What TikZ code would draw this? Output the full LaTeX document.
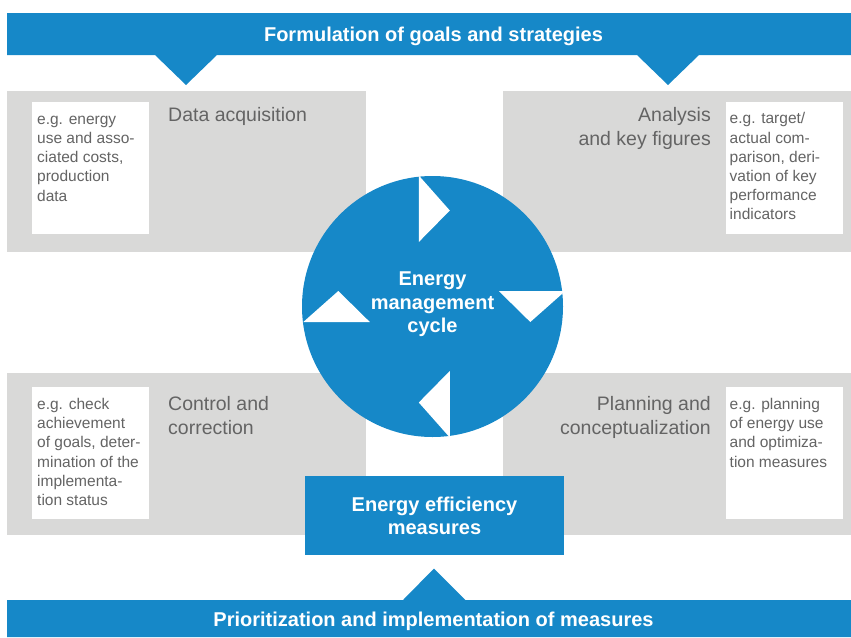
\documentclass[tikz,border=0pt]{standalone}
\usepackage{fontspec}
\setmainfont{Liberation Sans}
\definecolor{cycleblue}{RGB}{22,136,200}
\definecolor{phasegray}{RGB}{217,217,216}
\definecolor{notegray}{RGB}{100,100,100}
\tikzset{
  phasebox/.style={fill=phasegray,inner sep=0pt,anchor=north west},
  notebox/.style={fill=white,inner sep=0pt,anchor=north west,minimum width=117pt,minimum height=132pt},
  notetext/.style={inner sep=0pt,anchor=north west,align=left,text=notegray,font=\fontsize{15.5}{19.2}\selectfont},
  phasetitle/.style={inner sep=0pt,text=notegray,font=\fontsize{19.5}{24}\selectfont},
  whitebold/.style={inner sep=0pt,text=white,font=\bfseries\fontsize{20}{23.3}\selectfont},
  notch/.style={fill=white}
}
\begin{document}
\begin{tikzpicture}[x=1pt,y=-1pt]
\useasboundingbox (0,0) rectangle (851,637);
% gray phase boxes with their notes
\node[phasebox,minimum width=359pt,minimum height=161pt] (acq) at (7,91) {};
\node[phasebox,minimum width=348pt,minimum height=161pt] (ana) at (503,91) {};
\node[phasebox,minimum width=359pt,minimum height=162pt] (ctrl) at (7,373) {};
\node[phasebox,minimum width=348pt,minimum height=162pt] (plan) at (503,373) {};
\node[notebox] (acqnote) at (32,102) {};
\node[notebox] (ananote) at (726,102) {};
\node[notebox] (ctrlnote) at (32,387) {};
\node[notebox] (plannote) at (726,387) {};
\node[phasetitle,anchor=north west,align=left] (acqtitle) at (168,104.9) {\strut Data acquisition};
\node[phasetitle,anchor=north east,align=right] (anatitle) at (711,104.4) {\strut Analysis\\and key figures};
\node[phasetitle,anchor=north west,align=left] (ctrltitle) at (168,393.4) {\strut Control and\\correction};
\node[phasetitle,anchor=north east,align=right] (plantitle) at (711,393.4) {\strut Planning and\\conceptualization};
\node[notetext] (acqtext) at (37,110.6) {\strut e.g. energy\\use and asso-\\ciated costs,\\production\\data};
\node[notetext] (anatext) at (729.5,110.3) {\strut e.g. target/\\actual com-\\parison, deri-\\vation of key\\performance\\indicators};
\node[notetext] (ctrltext) at (37,395.9) {\strut e.g. check\\achievement\\of goals, deter-\\mination of the\\implementa-\\tion status};
\node[notetext] (plantext) at (729.5,395.8) {\strut e.g. planning\\of energy use\\and optimiza-\\tion measures};
% banners
\fill[cycleblue] (7,13) -- (851,13) -- (851,55) -- (699,55) -- (668,85) -- (637,55)
  -- (217,55) -- (186,85) -- (155,55) -- (7,55) -- cycle;
\fill[cycleblue] (7,637) -- (7,600) -- (403,600) -- (434,568.5) -- (465.5,600)
  -- (851,600) -- (851,637) -- cycle;
\node[whitebold,anchor=base] (goals) at (433.5,41.7) {Formulation of goals and strategies};
\node[whitebold,anchor=base] (prio) at (433.5,626.7) {Prioritization and implementation of measures};
% cycle
\node[circle,fill=cycleblue,inner sep=0pt,minimum size=261pt] (emc) at (432.5,306.5) {};
\coordinate (turn) at (434.3,306.5);
\foreach \a in {0,-90,-180,-270}
  \fill[notch,shift={(turn)},rotate=\a] (-15.5,-131) -- (-15.5,-64.5) -- (15.5,-96) -- cycle;
\node[whitebold,align=center] (emctext) at (432.5,304.3) {Energy\\management\\cycle};
\node[whitebold,fill=cycleblue,align=center,minimum width=259pt,minimum height=79pt] (effic) at (434.5,515.5) {Energy efficiency\\measures};
\end{tikzpicture}
\end{document}
